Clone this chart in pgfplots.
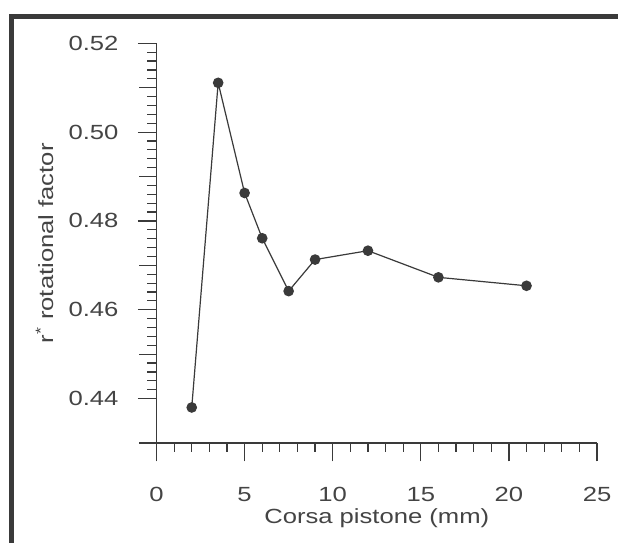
\documentclass[border=0pt]{standalone}
\usepackage{fontspec}
\setmainfont{Liberation Sans}[FakeStretch=1.25]
\usepackage{pgfplots}
\pgfplotsset{compat=1.18}
\definecolor{inkgray}{HTML}{3A3A3A}
\definecolor{textgray}{HTML}{444444}
\newcommand{\cf}{\fontsize{20.5pt}{24pt}\selectfont}
\begin{document}
\begin{tikzpicture}[x=1pt,y=1pt]
\useasboundingbox (0,0) rectangle (618,543);
\fill[white] (0,0) rectangle (618,543);
% scanned page frame
\draw[inkgray, line width=4.5pt] (11.7,0) -- (11.7,526.3) -- (618,526.3);
\begin{axis}[
  at={(156.5pt,100pt)}, anchor=south west,
  scale only axis, width=440.5pt, height=399.7pt,
  xmin=0, xmax=25, ymin=0.43, ymax=0.52,
  axis x line*=bottom, axis y line*=left,
  axis line style={inkgray, line width=1.4pt},
  every tick/.style={inkgray, line width=1.2pt},
  tick align=outside,
  major tick length=18.5pt, minor tick length=9pt,
  xtick={0,5,...,25}, minor x tick num=4,
  ytick={0.44,0.46,0.48,0.50,0.52}, minor y tick num=9,
  extra y ticks={0.43,0.45,0.47,0.49,0.51},
  extra y tick labels={},
  extra y tick style={major tick length=17pt},
  /pgf/number format/assume math mode=true,
  yticklabel style={/pgf/number format/fixed, /pgf/number format/fixed zerofill, /pgf/number format/precision=2},
  tick label style={font=\cf, text=textgray},
  xticklabel style={anchor=north, yshift=-22pt},
  yticklabel style={anchor=east, xshift=-16pt},
  label style={font=\cf, text=textgray},
  xlabel={Corsa pistone (mm)},
  ylabel={r\textsuperscript{*} rotational factor},
  xlabel style={at={(axis description cs:0.5,0)}, anchor=center, yshift=-75pt},
  ylabel style={at={(axis description cs:-0.254,0.5)}, anchor=center},
  clip=false,
]
\addplot[inkgray, line width=1.2pt, mark=*, mark size=4.7pt,
  mark options={fill=inkgray, draw=inkgray}] coordinates {
  (2,0.4380) (3.5,0.5111) (5,0.4863) (6,0.4761) (7.5,0.4642)
  (9,0.4713) (12,0.4733) (16,0.4673) (21,0.4654)
};
\end{axis}
\end{tikzpicture}
\end{document}
